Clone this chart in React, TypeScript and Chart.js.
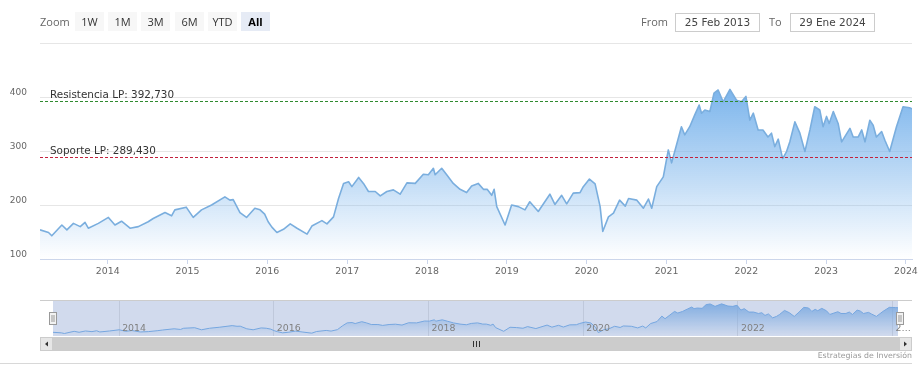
import React, { useEffect, useRef } from "react";
import { Chart, registerables } from "chart.js";

Chart.register(...registerables);

// ---------- data ----------
const dates: string[] = [
  "2013-02-25", "2013-04-05", "2013-04-20", "2013-06-05", "2013-06-28", "2013-07-28", "2013-08-28", "2013-09-19", "2013-10-04", "2013-11-19",
  "2014-01-04", "2014-02-03", "2014-03-05", "2014-04-13", "2014-05-21", "2014-07-05", "2014-07-28", "2014-09-20", "2014-10-20", "2014-11-04", "2014-12-26",
  "2015-01-27", "2015-03-06", "2015-04-21", "2015-06-21", "2015-07-14", "2015-07-29", "2015-08-29", "2015-09-28", "2015-11-05", "2015-11-29", "2015-12-20",
  "2016-01-05", "2016-01-22", "2016-02-14", "2016-03-15", "2016-04-15", "2016-05-16", "2016-07-01", "2016-07-23", "2016-09-07", "2016-09-30", "2016-10-30", "2016-11-22", "2016-12-15",
  "2017-01-07", "2017-01-22", "2017-02-22", "2017-03-16", "2017-04-08", "2017-05-09", "2017-06-01", "2017-07-01", "2017-07-31", "2017-08-31", "2017-10-01", "2017-11-08", "2017-12-15",
  "2018-01-07", "2018-01-30", "2018-02-07", "2018-03-09", "2018-04-01", "2018-05-01", "2018-06-01", "2018-07-01", "2018-07-24", "2018-08-23", "2018-09-16", "2018-10-03", "2018-10-24", "2018-11-04", "2018-11-16", "2018-12-24",
  "2019-01-23", "2019-02-23", "2019-03-25", "2019-04-16", "2019-05-25", "2019-07-17", "2019-08-09", "2019-09-09", "2019-10-02", "2019-11-01", "2019-12-02", "2019-12-17",
  "2020-01-14", "2020-02-09", "2020-03-03", "2020-03-15", "2020-04-10", "2020-05-03", "2020-05-31", "2020-06-26", "2020-07-11", "2020-08-18", "2020-09-17", "2020-10-10", "2020-10-25", "2020-11-17", "2020-12-17",
  "2021-01-09", "2021-01-24", "2021-02-16", "2021-03-10", "2021-03-25", "2021-04-17", "2021-05-10", "2021-05-30", "2021-06-10", "2021-06-25", "2021-07-18", "2021-08-06", "2021-08-25", "2021-09-17", "2021-10-18", "2021-11-17", "2021-12-10", "2021-12-30",
  "2022-01-17", "2022-02-02", "2022-02-24", "2022-03-18", "2022-04-10", "2022-04-26", "2022-05-11", "2022-05-27", "2022-06-16", "2022-07-04", "2022-07-19", "2022-08-11", "2022-09-03", "2022-09-26", "2022-10-19", "2022-11-10", "2022-12-03", "2022-12-18",
  "2023-01-03", "2023-01-15", "2023-02-03", "2023-02-25", "2023-03-13", "2023-04-20", "2023-05-05", "2023-05-28", "2023-06-13", "2023-06-28", "2023-07-20", "2023-08-04", "2023-08-19", "2023-09-12", "2023-09-27", "2023-10-19", "2023-11-19", "2023-12-19",
  "2024-01-18", "2024-01-29",
];

const prices: number[] = [
  154, 149, 143, 163, 154, 166, 160, 168, 157, 166,
  177, 163, 170, 157, 160, 169, 175, 186, 180, 191, 196,
  177, 191, 200, 215, 209, 210, 186, 177, 194, 191, 183,
  169, 159, 149, 155, 165, 157, 146, 161, 171, 165, 178, 212, 240,
  243, 234, 251, 240, 225, 225, 217, 225, 228, 220, 241, 240, 257,
  256, 268, 256, 268, 256, 240, 229, 223, 235, 240, 229, 229, 218, 229, 197, 163,
  200, 197, 191, 206, 188, 220, 201, 218, 202, 222, 223, 234,
  248, 239, 197, 151, 178, 185, 209, 198, 212, 209, 194, 211, 194, 234, 252,
  302, 278, 312, 345, 330, 345, 367, 385, 370, 376, 373, 407, 413, 391, 414, 394, 391, 401,
  357, 370, 339, 339, 326, 333, 308, 322, 286, 299, 317, 354, 333, 299, 339, 382, 376, 345,
  364, 351, 373, 351, 317, 342, 326, 326, 339, 317, 357, 348, 326, 336, 320, 299, 345, 382,
  380, 378,
];

const yearTicks: number[] = [2014, 2015, 2016, 2017, 2018, 2019, 2020, 2021, 2022, 2023, 2024];
const navYearTicks: number[] = [2014, 2016, 2018, 2020, 2022, 2024];
const yTicks: number[] = [100, 200, 300, 400, 500];

const resistanceValue = 392.73;
const resistanceLabel = "Resistencia LP: 392,730";
const supportValue = 289.43;
const supportLabel = "Soporte LP: 289,430";

const zoomButtons: string[] = ["1W", "1M", "3M", "6M", "YTD", "All"];
const selectedButton = "All";
const fromDate = "25 Feb 2013";
const toDate = "29 Ene 2024";
const creditText = "Estrategias de Inversión";

// ---------- helpers ----------
const xs = dates.map((d) => Date.parse(d + "T00:00:00Z"));
const xMin = xs[0];
const xMax = xs[xs.length - 1];
const points = xs.map((x, i) => ({ x, y: prices[i] }));
const maxPrice = Math.max(...prices);
const yearMs = (y: number) => Date.UTC(y, 0, 1);

function areaGradient(chart: any, topAlpha: number) {
  const { ctx, chartArea, scales } = chart;
  if (!chartArea || !scales || !scales.y) return "rgba(124,181,236,0.4)";
  const top = scales.y.getPixelForValue(maxPrice);
  const g = ctx.createLinearGradient(0, top, 0, chartArea.bottom);
  g.addColorStop(0, `rgba(124,181,236,${topAlpha})`);
  g.addColorStop(1, "rgba(124,181,236,0)");
  return g;
}

const plotLinesPlugin = {
  id: "plotLines",
  afterDatasetsDraw(chart: any) {
    const { ctx, chartArea: a, scales } = chart;
    const lines = [
      { value: resistanceValue, color: "#2f8a2f", label: resistanceLabel },
      { value: supportValue, color: "#c4213d", label: supportLabel },
    ];
    ctx.save();
    for (const l of lines) {
      const py = Math.round(scales.y.getPixelForValue(l.value)) + 0.5;
      ctx.strokeStyle = l.color;
      ctx.lineWidth = 1;
      ctx.setLineDash([3, 2]);
      ctx.beginPath();
      ctx.moveTo(a.left, py);
      ctx.lineTo(a.right, py);
      ctx.stroke();
      ctx.setLineDash([]);
      ctx.fillStyle = "#333333";
      ctx.font = '10.4px "DejaVu Sans"';
      ctx.textAlign = "left";
      ctx.textBaseline = "alphabetic";
      ctx.fillText(l.label, a.left + 10, py - 3.5);
    }
    ctx.restore();
  },
};

const navigatorPlugin = {
  id: "navigatorDecor",
  beforeDatasetsDraw(chart: any) {
    const { ctx, chartArea: a, scales } = chart;
    ctx.save();
    ctx.strokeStyle = "#e6e6e6";
    ctx.lineWidth = 1;
    for (const yr of navYearTicks) {
      const px = Math.round(scales.x.getPixelForValue(yearMs(yr))) + 0.5;
      if (px < a.left || px > a.right) continue;
      ctx.beginPath();
      ctx.moveTo(px, a.top);
      ctx.lineTo(px, a.bottom);
      ctx.stroke();
    }
    ctx.restore();
  },
  afterDatasetsDraw(chart: any) {
    const { ctx, chartArea: a, scales } = chart;
    const btn = 13;
    const outerL = a.left - btn;
    const outerR = a.right + btn + 1;
    ctx.save();
    // mask (full range selected)
    ctx.fillStyle = "rgba(102,133,194,0.3)";
    ctx.fillRect(a.left, a.top, a.right - a.left, a.bottom - a.top);

    // axis labels
    ctx.font = '9.4px "DejaVu Sans"';
    ctx.fillStyle = "#808080";
    ctx.textBaseline = "middle";
    ctx.textAlign = "left";
    for (const yr of navYearTicks) {
      const px = scales.x.getPixelForValue(yearMs(yr));
      let label = String(yr);
      const room = a.right - (px + 3.5);
      if (ctx.measureText(label).width > room) {
        while (label.length > 1 && ctx.measureText(label + "…").width > room) label = label.slice(0, -1);
        label = label + "…";
      }
      ctx.fillText(label, px + 3.5, a.bottom - 7);
    }

    // outline
    ctx.strokeStyle = "#cccccc";
    ctx.lineWidth = 1;
    ctx.beginPath();
    ctx.moveTo(outerL, a.top - 0.5);
    ctx.lineTo(outerR, a.top - 0.5);
    ctx.stroke();

    // handles
    const hy = a.top + 11;
    for (const hx of [a.left - 0.5, a.right + 1]) {
      ctx.fillStyle = "#f2f2f2";
      ctx.strokeStyle = "#999999";
      const x0 = Math.round(hx - 3.5) + 0.5;
      ctx.fillRect(x0, hy + 0.5, 7, 12);
      ctx.strokeRect(x0, hy + 0.5, 7, 12);
      ctx.beginPath();
      ctx.moveTo(x0 + 2.5, hy + 3);
      ctx.lineTo(x0 + 2.5, hy + 10);
      ctx.moveTo(x0 + 4.5, hy + 3);
      ctx.lineTo(x0 + 4.5, hy + 10);
      ctx.stroke();
    }

    // scrollbar
    const sy = a.bottom + 1;
    const sh = 14;
    ctx.fillStyle = "#f2f2f2";
    ctx.fillRect(outerL, sy, outerR - outerL, sh);
    ctx.fillStyle = "#cccccc";
    ctx.fillRect(a.left, sy, a.right - a.left + 1, sh);
    ctx.fillStyle = "#e6e6e6";
    ctx.strokeStyle = "#cccccc";
    ctx.fillRect(outerL, sy, btn, sh);
    ctx.strokeRect(outerL + 0.5, sy + 0.5, btn - 1, sh - 1);
    ctx.fillRect(a.right + 1, sy, btn, sh);
    ctx.strokeRect(a.right + 1.5, sy + 0.5, btn - 1, sh - 1);
    // arrows
    ctx.fillStyle = "#333333";
    const cy = sy + sh / 2;
    const lx = outerL + btn / 2;
    ctx.beginPath();
    ctx.moveTo(lx - 1.5, cy);
    ctx.lineTo(lx + 1.5, cy - 2.5);
    ctx.lineTo(lx + 1.5, cy + 2.5);
    ctx.closePath();
    ctx.fill();
    const rx = a.right + 1 + btn / 2;
    ctx.beginPath();
    ctx.moveTo(rx + 1.5, cy);
    ctx.lineTo(rx - 1.5, cy - 2.5);
    ctx.lineTo(rx - 1.5, cy + 2.5);
    ctx.closePath();
    ctx.fill();
    // grip
    const gx = Math.round((a.left + a.right) / 2);
    ctx.strokeStyle = "#333333";
    ctx.beginPath();
    for (const d of [-3, 0, 3]) {
      ctx.moveTo(gx + d + 0.5, cy - 3);
      ctx.lineTo(gx + d + 0.5, cy + 3);
    }
    ctx.stroke();

    // bottom border line
    ctx.strokeStyle = "#d8d8d8";
    ctx.beginPath();
    ctx.moveTo(0, sy + sh + 12.5);
    ctx.lineTo(outerR, sy + sh + 12.5);
    ctx.stroke();

    // credits
    ctx.font = '7.8px "DejaVu Sans"';
    ctx.fillStyle = "#999999";
    ctx.textAlign = "right";
    ctx.textBaseline = "middle";
    ctx.fillText(creditText, outerR, sy + sh + 5);
    ctx.restore();
  },
};

export default function App() {
  const mainRef = useRef<HTMLCanvasElement | null>(null);
  const navRef = useRef<HTMLCanvasElement | null>(null);

  useEffect(() => {
    if (!mainRef.current || !navRef.current) return;
    const axisFont = { family: "DejaVu Sans", size: 9.4 };

    const main = new Chart(mainRef.current, {
      type: "line",
      data: {
        datasets: [
          {
            data: points,
            borderColor: "#7aaede",
            borderWidth: 1.6,
            pointRadius: 0,
            tension: 0,
            borderJoinStyle: "round",
            fill: "start",
            backgroundColor: (c: any) => areaGradient(c.chart, 1),
          } as any,
        ],
      },
      options: {
        responsive: false,
        animation: false,
        events: [],
        layout: { padding: { top: 43, right: 10, left: 0, bottom: 0 } },
        plugins: { legend: { display: false }, tooltip: { enabled: false } },
        scales: {
          x: {
            type: "linear",
            min: xMin,
            max: xMax,
            afterBuildTicks: (s: any) => {
              s.ticks = yearTicks.map((y) => ({ value: yearMs(y) }));
            },
            afterFit: (s: any) => {
              s.height = 31;
              s.paddingLeft = 0;
              s.paddingRight = 0;
            },
            grid: { display: true, drawOnChartArea: false, drawTicks: true, tickLength: 5, color: "#ccd6eb" },
            border: { display: true, color: "#ccd6eb" },
            ticks: {
              autoSkip: false,
              maxRotation: 0,
              padding: 2,
              color: "#666666",
              font: axisFont,
              callback: (v: any) => String(new Date(Number(v)).getUTCFullYear()),
            },
          },
          y: {
            min: 100,
            max: 500,
            afterBuildTicks: (s: any) => {
              s.ticks = yTicks.map((v) => ({ value: v }));
            },
            afterFit: (s: any) => {
              s.width = 40;
              s.paddingTop = 0;
              s.paddingBottom = 0;
            },
            grid: { color: "#e6e6e6", drawTicks: false },
            border: { display: false },
            ticks: {
              padding: 13,
              labelOffset: -4,
              color: "#666666",
              font: { family: "DejaVu Sans", size: 9 },
              callback: (v: any) => (Number(v) >= 500 ? "" : String(v)),
            },
          },
        },
      } as any,
      plugins: [plotLinesPlugin],
    });

    const nav = new Chart(navRef.current, {
      type: "line",
      data: {
        datasets: [
          {
            data: points,
            borderColor: "#7cb5ec",
            borderWidth: 1,
            pointRadius: 0,
            tension: 0,
            fill: "start",
            backgroundColor: (c: any) => areaGradient(c.chart, 0.85),
          } as any,
        ],
      },
      options: {
        responsive: false,
        animation: false,
        events: [],
        layout: { padding: { top: 11, right: 24, left: 53, bottom: 40 } },
        plugins: { legend: { display: false }, tooltip: { enabled: false } },
        scales: {
          x: { type: "linear", display: false, min: xMin, max: xMax },
          y: { display: false, min: 120, max: 440 },
        },
      } as any,
      plugins: [navigatorPlugin],
    });

    return () => {
      main.destroy();
      nav.destroy();
    };
  }, []);

  const btnBase: React.CSSProperties = {
    position: "absolute",
    top: 12,
    width: 29,
    height: 19,
    lineHeight: "19px",
    textAlign: "center",
    fontFamily: '"Open Sans", sans-serif',
    fontSize: 11,
    color: "#333333",
    background: "#f7f7f7",
  };
  const inputBase: React.CSSProperties = {
    position: "absolute",
    top: 13,
    width: 85,
    height: 19,
    boxSizing: "border-box",
    border: "1px solid #cccccc",
    lineHeight: "17px",
    textAlign: "center",
    fontFamily: '"DejaVu Sans", sans-serif',
    fontSize: 10.5,
    color: "#444444",
    background: "#ffffff",
  };
  const labelBase: React.CSSProperties = {
    position: "absolute",
    top: 12,
    height: 19,
    lineHeight: "19px",
    fontFamily: '"Open Sans", sans-serif',
    fontSize: 11,
    color: "#666666",
  };

  return (
    <div style={{ position: "absolute", left: 0, top: 0, width: 922, height: 376, overflow: "hidden", background: "#ffffff" }}>
      <canvas ref={mainRef} width={922} height={290} style={{ position: "absolute", left: 0, top: 0 }} />
      <canvas ref={navRef} width={922} height={86} style={{ position: "absolute", left: 0, top: 290 }} />
      <div style={{ ...labelBase, left: 40 }}>Zoom</div>
      {zoomButtons.map((b, i) => (
        <div
          key={b}
          style={{
            ...btnBase,
            left: Math.round(75 + i * 33.2),
            background: b === selectedButton ? "#e6ebf5" : "#f7f7f7",
            fontWeight: b === selectedButton ? 700 : 400,
            color: b === selectedButton ? "#000000" : "#333333",
          }}
        >
          {b}
        </div>
      ))}
      <div style={{ ...labelBase, left: 641 }}>From</div>
      <div style={{ ...inputBase, left: 675 }}>{fromDate}</div>
      <div style={{ ...labelBase, left: 769 }}>To</div>
      <div style={{ ...inputBase, left: 790 }}>{toDate}</div>
    </div>
  );
}
